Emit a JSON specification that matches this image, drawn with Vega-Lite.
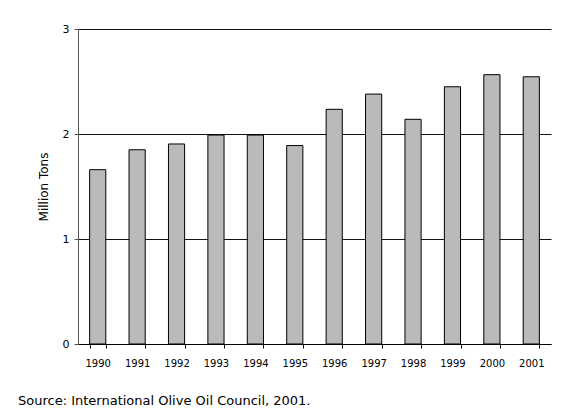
{
  "$schema": "https://vega.github.io/schema/vega-lite/v6.json",
  "width": 473,
  "height": 315,
  "autosize": {"type": "none"},
  "padding": {"left": 78, "top": 29, "right": 20, "bottom": 73},
  "background": "white",
  "title": {
    "text": "Source: International Olive Oil Council, 2001.",
    "orient": "bottom",
    "anchor": "start",
    "frame": "group",
    "dx": -60,
    "offset": 27,
    "font": "DejaVu Sans",
    "fontSize": 13,
    "fontWeight": "normal",
    "color": "#000000"
  },
  "data": {
    "values": [
      {"year": "1990", "tons": 1.66},
      {"year": "1991", "tons": 1.85},
      {"year": "1992", "tons": 1.905},
      {"year": "1993", "tons": 1.99},
      {"year": "1994", "tons": 1.99},
      {"year": "1995", "tons": 1.89},
      {"year": "1996", "tons": 2.235},
      {"year": "1997", "tons": 2.38},
      {"year": "1998", "tons": 2.14},
      {"year": "1999", "tons": 2.45},
      {"year": "2000", "tons": 2.565},
      {"year": "2001", "tons": 2.545}
    ]
  },
  "mark": {"type": "bar", "fill": "#bababa", "stroke": "#000000", "strokeWidth": 1},
  "encoding": {
    "x": {
      "field": "year",
      "type": "ordinal",
      "scale": {"paddingInner": 0.59, "paddingOuter": 0.295},
      "axis": {
        "title": null,
        "tickBand": "extent",
        "labelAngle": 0,
        "domainColor": "#000000",
        "tickColor": "#000000",
        "tickSize": 4,
        "labelPadding": 10,
        "labelFont": "DejaVu Sans",
        "labelFontSize": 10,
        "labelColor": "#000000"
      }
    },
    "y": {
      "field": "tons",
      "type": "quantitative",
      "scale": {"domain": [0, 3]},
      "axis": {
        "title": "Million Tons",
        "values": [0, 1, 2, 3],
        "format": "d",
        "grid": true,
        "gridColor": "#111111",
        "gridOpacity": 1,
        "domainColor": "#555555",
        "tickColor": "#555555",
        "tickSize": 4,
        "labelPadding": 5,
        "labelFont": "DejaVu Sans",
        "labelFontSize": 11,
        "labelColor": "#000000",
        "titleFont": "DejaVu Sans",
        "titleFontSize": 12,
        "titleFontWeight": "normal",
        "titleColor": "#000000",
        "titlePadding": 12
      }
    }
  },
  "config": {"view": {"stroke": null}}
}
